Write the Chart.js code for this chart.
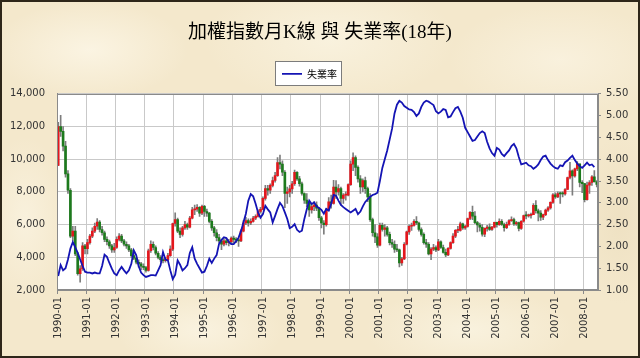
<!DOCTYPE html>
<html><head><meta charset="utf-8">
<script src="https://cdn.jsdelivr.net/npm/chart.js@4.4.1/dist/chart.umd.min.js"></script>
<style>
html,body{margin:0;padding:0;background:#fff;}
#wrap{position:relative;width:640px;height:358px;overflow:hidden;
 background-color:#f4e8cc;
 background-image:
  radial-gradient(ellipse 140px 70px at 90px 50px, rgba(252,246,230,0.85), rgba(252,246,230,0) 70%),
  radial-gradient(ellipse 180px 90px at 330px 40px, rgba(250,244,226,0.8), rgba(250,244,226,0) 70%),
  radial-gradient(ellipse 160px 80px at 560px 60px, rgba(250,243,225,0.8), rgba(250,243,225,0) 70%),
  radial-gradient(ellipse 120px 60px at 200px 330px, rgba(251,245,228,0.8), rgba(251,245,228,0) 70%),
  radial-gradient(ellipse 150px 60px at 470px 330px, rgba(250,244,226,0.8), rgba(250,244,226,0) 70%),
  radial-gradient(ellipse 60px 120px at 25px 220px, rgba(251,245,228,0.7), rgba(251,245,228,0) 70%),
  radial-gradient(ellipse 60px 120px at 620px 220px, rgba(236,222,190,0.7), rgba(236,222,190,0) 70%);
}
#wrap:after{content:'';position:absolute;left:0;top:0;right:0;bottom:0;border:2px solid #2e2619;pointer-events:none;}
canvas{position:absolute;left:0;top:0;}
</style></head><body>
<div id="wrap"><canvas id="c" width="640" height="358"></canvas></div>
<script>
// Category range: monthly, 1990-01 .. 2008-06
const firstYear = 1990, lastYear = 2008, lastMonth = 6;

// TAIEX monthly K-line (open / high / low / close)
const open = [
 9624,12000,11700,10800,9100,8100,5300,5600,4200,3000,3300,4700,
 4530,4900,5300,5600,5900,6150,5700,5500,5100,4950,4700,4450,
 4600,5100,5300,5000,4800,4700,4450,4100,3950,3700,3600,3450,
 3377,3200,4400,4800,4600,4250,4000,3850,3800,3850,4100,4500,
 6070,6300,5600,5400,5800,6000,5850,6400,6900,6950,7050,6700,
 7124,6800,6700,6200,5800,5500,5200,5000,4800,5000,4900,4950,
 5174,5100,5050,5000,5600,6100,6250,6100,6200,6400,6500,6800,
 6934,7600,8200,8100,8400,8700,9000,9800,9700,9200,7900,8000,
 8187,8500,9200,8800,8500,7900,7500,7300,6900,7100,7200,7000,
 6418,6100,6000,6900,7400,7300,8300,8000,8200,7600,7800,7800,
 8448,9700,10100,9500,8800,8300,8700,8200,7700,6300,5500,5250,
 4739,5950,5700,5800,5400,4900,4800,4500,4450,3650,3900,4800,
 5551,5900,5950,6200,6100,5700,5400,4900,4800,4200,4500,4600,
 4452,4950,4600,4300,4150,4550,4900,5300,5650,5650,6050,5800,
 5891,6375,6750,6522,6117,5977,5840,5420,5765,5845,5705,5844,
 6140,5994,6207,6006,5818,6011,6241,6312,6034,6119,5765,6203,
 6548,6532,6561,6614,7171,6846,6704,6454,6611,6884,7021,7357,
 7824,7700,7901,7884,7875,8145,8883,9287,8982,9411,9711,8586,
 8506,7521,8413,8573,8920,8619
];
const high = [
 12250,12682,12000,11100,9300,8200,5900,5900,4300,3500,4900,4800,
 5100,5400,5800,6100,6365,6250,5900,5600,5250,5050,4800,4850,
 5250,5450,5400,5100,4950,4800,4550,4250,4000,3850,3700,3600,
 3450,4500,5000,4950,4700,4350,4100,3950,4000,4250,4700,6100,
 6720,6400,5800,5900,6200,6100,6500,7050,7200,7228,7100,7200,
 7180,6950,6750,6300,5900,5700,5400,5100,5150,5150,5100,5250,
 5300,5200,5150,5700,6250,6450,6350,6350,6500,6600,6900,7050,
 7700,8400,8400,8500,8900,9200,10100,10256,9900,9300,8300,8400,
 8650,9337,9250,8950,8600,7950,7900,7400,7250,7400,7400,7050,
 6500,6250,7000,7650,7800,8710,8700,8450,8300,7900,8000,8500,
 9900,10393,10200,9600,9000,8800,8900,8300,7900,6400,6000,5450,
 6100,6100,6000,5900,5550,5100,5000,4800,4500,4000,4900,5600,
 5990,6100,6300,6484,6150,5800,5500,5100,4900,4600,4800,4700,
 5100,5000,4750,4500,4600,4950,5450,5700,5900,6150,6100,5950,
 6400,6800,7135,6800,6200,6100,6000,5800,5950,6050,5900,6150,
 6150,6350,6300,6100,6150,6300,6480,6400,6200,6150,6250,6580,
 6800,6650,6700,7280,7476,6950,6850,6650,6950,7100,7400,7900,
 7950,8000,7990,8000,8200,8900,9807,9350,9450,9859,9700,8700,
 8530,8600,8700,9000,9309,8700
];
const low = [
 9600,11400,10500,8900,7900,5200,5000,4100,2900,2485,3200,4200,
 4200,4800,5200,5500,5700,5550,5350,4950,4750,4550,4300,4300,
 4550,5000,4900,4700,4550,4350,4000,3850,3600,3400,3250,3250,
 3098,3150,4300,4450,4150,3900,3750,3650,3700,3800,4050,4400,
 5900,5500,5200,5300,5700,5700,5800,6350,6600,6800,6500,6600,
 6500,6500,6100,5650,5300,5000,4900,4474,4700,4750,4700,4850,
 4900,4900,4672,4950,5550,6000,5900,6000,6150,6300,6450,6700,
 6900,7500,7800,7900,8300,8600,8950,9400,9000,7040,7300,7700,
 7900,8400,8700,8350,7800,7300,7100,6500,6700,6850,6850,6250,
 5800,5422,5900,6850,7000,7250,7600,7800,7200,7300,7500,7750,
 8400,9300,9000,8600,7900,8000,7900,7400,6200,5300,4900,4600,
 4700,5600,5300,5300,4750,4600,4300,4350,3411,3500,3850,4750,
 5400,5650,5900,6000,5600,5300,4800,4600,4150,3850,4400,4350,
 4400,4550,4250,4044,4100,4500,4850,5200,5500,5600,5700,5700,
 5850,6300,6300,6050,5550,5600,5300,5255,5600,5650,5650,5800,
 5850,5950,5950,5600,5750,5950,6200,5950,5950,5620,5700,6150,
 6350,6450,6400,6600,6700,6230,6250,6300,6550,6800,6950,7300,
 7600,7650,7300,7700,7800,8150,8800,7800,8900,9300,8300,7950,
 7384,7500,7900,8400,8600,8300
];
const close = [
 12000,11700,10800,9100,8100,5300,5600,4200,3000,3300,4700,4530,
 4900,5300,5600,5900,6150,5700,5500,5100,4950,4700,4450,4600,
 5100,5300,5000,4800,4700,4450,4100,3950,3700,3600,3450,3377,
 3200,4400,4800,4600,4250,4000,3850,3800,3850,4100,4500,6070,
 6300,5600,5400,5800,6000,5850,6400,6900,6950,7050,6700,7124,
 6800,6700,6200,5800,5500,5200,5000,4800,5000,4900,4950,5174,
 5100,5050,5000,5600,6100,6250,6100,6200,6400,6500,6800,6934,
 7600,8200,8100,8400,8700,9000,9800,9700,9200,7900,8000,8187,
 8500,9200,8800,8500,7900,7500,7300,6900,7100,7200,7000,6418,
 6100,6000,6900,7400,7300,8300,8000,8200,7600,7800,7800,8448,
 9700,10100,9500,8800,8300,8700,8200,7700,6300,5500,5250,4739,
 5950,5700,5800,5400,4900,4800,4500,4450,3650,3900,4800,5551,
 5900,5950,6200,6100,5700,5400,4900,4800,4200,4500,4600,4452,
 4950,4600,4300,4150,4550,4900,5300,5650,5650,6050,5800,5891,
 6375,6750,6522,6117,5977,5840,5420,5765,5845,5705,5844,6140,
 5994,6207,6006,5818,6011,6241,6312,6034,6119,5765,6203,6548,
 6532,6561,6614,7171,6846,6704,6454,6611,6884,7021,7357,7824,
 7700,7901,7884,7875,8145,8883,9287,8982,9411,9711,8586,8506,
 7521,8413,8573,8920,8619,8450
];
// Unemployment rate (%), right axis
const unemployment = [
 1.32,1.57,1.45,1.50,1.70,1.95,2.10,1.98,1.85,1.70,1.55,1.42,
 1.40,1.40,1.38,1.40,1.38,1.38,1.55,1.81,1.76,1.62,1.49,1.38,
 1.34,1.45,1.53,1.45,1.38,1.45,1.60,1.91,1.80,1.55,1.40,1.34,
 1.30,1.32,1.34,1.34,1.33,1.45,1.57,1.87,1.70,1.68,1.45,1.25,
 1.35,1.68,1.58,1.45,1.50,1.57,1.85,1.98,1.72,1.60,1.50,1.40,
 1.42,1.55,1.72,1.62,1.72,1.80,2.06,2.15,2.21,2.19,2.10,2.05,
 2.05,2.12,2.20,2.35,2.55,2.75,3.05,3.20,3.15,2.98,2.78,2.66,
 2.74,2.93,2.85,2.78,2.55,2.70,2.86,3.00,2.92,2.78,2.63,2.42,
 2.45,2.51,2.38,2.33,2.36,2.63,2.85,3.05,2.97,3.01,2.92,2.88,
 2.84,2.75,2.86,2.82,2.98,3.18,3.16,3.05,2.95,2.90,2.86,2.82,
 2.78,2.82,2.86,2.74,2.80,2.92,3.02,3.08,3.14,3.18,3.20,3.23,
 3.50,3.80,4.00,4.20,4.45,4.70,5.05,5.25,5.34,5.30,5.22,5.18,
 5.14,5.13,5.08,4.99,5.05,5.20,5.30,5.34,5.32,5.28,5.24,5.10,
 5.05,5.09,5.15,5.13,4.96,4.98,5.08,5.17,5.20,5.09,4.95,4.72,
 4.62,4.52,4.42,4.44,4.52,4.60,4.64,4.60,4.40,4.25,4.14,4.08,
 4.26,4.22,4.12,4.07,4.14,4.20,4.30,4.35,4.25,4.05,3.88,3.90,
 3.92,3.86,3.84,3.78,3.82,3.88,3.98,4.06,4.08,3.98,3.90,3.84,
 3.80,3.78,3.86,3.84,3.93,3.97,4.03,4.08,3.98,3.90,3.84,3.80,
 3.86,3.92,3.86,3.88,3.82,null
];
const leftTicks = {min: 2000, max: 14000, step: 2000};
const rightTicks = {min: 1.0, max: 5.5, step: 0.5};

const labels = [];
for (let y = firstYear; y <= lastYear; y++) {
  for (let m = 1; m <= 12; m++) {
    if (y === lastYear && m > lastMonth) break;
    labels.push(y + '-' + String(m).padStart(2, '0'));
  }
}
const isUp = close.map((c, i) => c >= open[i]);

const tickFont = {family: "'DejaVu Sans', Verdana, sans-serif", size: 10};
const GRID = '#c9c9c9', AXIS = '#8a8a8a';

const frame = {
  id: 'frame',
  afterLayout(chart) {
    const lg = chart.legend;
    if (lg) {
      lg.top -= 5; lg.bottom -= 5;
      lg.right -= 21;
    }
  },
  beforeDraw(chart) {
    const {ctx, chartArea: a} = chart;
    ctx.save();
    ctx.fillStyle = '#ffffff';
    ctx.fillRect(a.left, a.top, a.right - a.left, a.bottom - a.top);
    const lg = chart.legend;
    if (lg && lg.legendHitBoxes && lg.legendHitBoxes.length) {
      const hb = lg.legendHitBoxes[0];
      const x0 = Math.round(hb.left) - 6.5, y0 = Math.round(hb.top) - 7.5;
      const w = Math.round(hb.width) + 11, h = 24;
      ctx.fillStyle = '#ffffff';
      ctx.fillRect(x0, y0, w, h);
      ctx.strokeStyle = '#7c7c7c';
      ctx.lineWidth = 1;
      ctx.strokeRect(x0, y0, w, h);
    }
    ctx.restore();
  },
  afterDraw(chart) {
    const {ctx, chartArea: a} = chart;
    ctx.save();
    ctx.strokeStyle = AXIS;
    ctx.lineWidth = 1;
    ctx.strokeRect(Math.round(a.left) + 0.5, Math.round(a.top) + 0.5, Math.round(a.right - a.left) - 1, Math.round(a.bottom - a.top) - 1);
    ctx.restore();
  }
};

new Chart(document.getElementById('c'), {
  data: {
    labels: labels,
    datasets: [
      {
        type: 'line', label: '失業率', data: unemployment, yAxisID: 'y1',
        borderColor: '#1414b4', backgroundColor: '#1414b4', borderWidth: 1.8,
        pointRadius: 0, tension: 0, order: 0, spanGaps: false
      },
      {
        type: 'bar', label: 'K線實體', data: open.map((o, i) => [o, close[i]]), yAxisID: 'y',
        backgroundColor: (c) => isUp[c.dataIndex] ? '#e3161c' : '#1d7a1d',
        barThickness: 2, grouped: false, minBarLength: 1, order: 1
      },
      {
        type: 'bar', label: 'K線影線', data: low.map((l, i) => [l, high[i]]), yAxisID: 'y',
        backgroundColor: '#7d7d7d', barThickness: 1, grouped: false, order: 2
      }
    ]
  },
  options: {
    responsive: false, animation: false, devicePixelRatio: 1, locale: 'en-US',
    layout: {padding: {left: 0, right: 0, top: 0, bottom: 0}},
    plugins: {
      title: {
        display: true, text: '加權指數月K線 與 失業率(18年)', color: '#000',
        font: {family: "'Liberation Serif', 'Noto Sans CJK TC', serif", size: 19, weight: 'normal'},
        padding: {top: 22, bottom: 15}
      },
      legend: {
        display: true,
        labels: {
          filter: (item) => item.text === '失業率',
          usePointStyle: true, pointStyle: 'line', pointStyleWidth: 20,
          color: '#000', padding: 14,
          font: {family: "'Noto Sans CJK TC', 'DejaVu Sans', sans-serif", size: 10}
        }
      },
      tooltip: {enabled: false}
    },
    scales: {
      x: {
        type: 'category', offset: true,
        grid: {
          offset: true, drawTicks: true, tickLength: 4,
          color: (c) => (c.index % 12 === 0) ? GRID : 'rgba(0,0,0,0)',
          tickColor: (c) => (c.index % 12 === 0) ? AXIS : 'rgba(0,0,0,0)'
        },
        border: {color: AXIS},
        ticks: {
          autoSkip: false, maxRotation: 90, minRotation: 90, padding: 3,
          color: '#333', font: tickFont,
          callback: (v, i) => labels[i].endsWith('-01') ? labels[i] : ''
        },
        afterFit: (s) => { s.height = 68; }
      },
      y: {
        position: 'left', min: leftTicks.min, max: leftTicks.max,
        ticks: {stepSize: leftTicks.step, color: '#333', font: tickFont, padding: 12},
        grid: {color: GRID, drawTicks: false},
        border: {color: AXIS},
        afterFit: (s) => { s.width = 57; }
      },
      y1: {
        position: 'right', min: rightTicks.min, max: rightTicks.max,
        ticks: {stepSize: rightTicks.step, color: '#333', font: tickFont, padding: 5,
          callback: (v) => Number(v).toFixed(2)},
        grid: {drawOnChartArea: false, tickLength: 3, color: AXIS},
        border: {color: AXIS},
        afterFit: (s) => { s.width = 42; }
      }
    }
  },
  plugins: [frame]
});
</script>
</body></html>
